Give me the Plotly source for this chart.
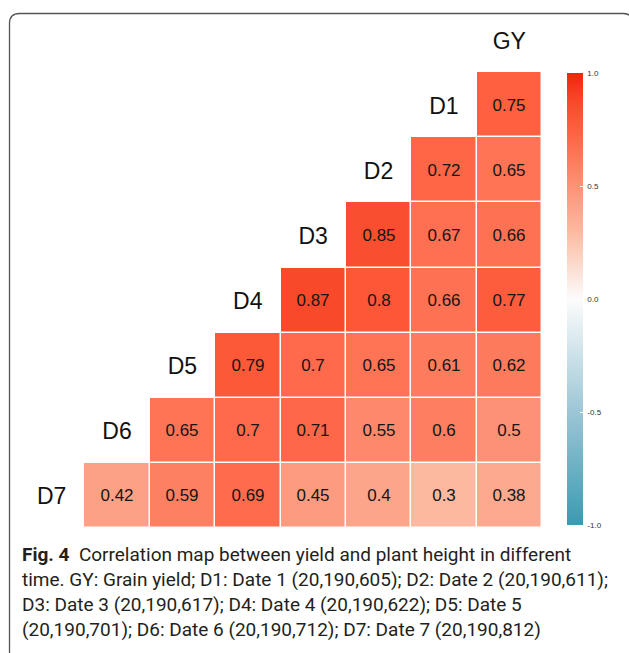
import plotly.graph_objects as go

# ---- data ----
variables = ["GY", "D1", "D2", "D3", "D4", "D5", "D6", "D7"]
# correlation of each variable with the preceding ones (GY, D1, D2, ...)
corr_D1 = [0.75]
corr_D2 = [0.65, 0.72]
corr_D3 = [0.66, 0.67, 0.85]
corr_D4 = [0.77, 0.66, 0.80, 0.87]
corr_D5 = [0.62, 0.61, 0.65, 0.70, 0.79]
corr_D6 = [0.50, 0.60, 0.55, 0.71, 0.70, 0.65]
corr_D7 = [0.38, 0.30, 0.40, 0.45, 0.69, 0.59, 0.42]
lower_rows = [[], corr_D1, corr_D2, corr_D3, corr_D4, corr_D5, corr_D6, corr_D7]
colorbar_ticks = [-1.0, -0.5, 0.0, 0.5, 1.0]
colorbar_ticktext = [" -1.0", " -0.5", " 0.0", " 0.5", " 1.0"]
caption_lines = [
    "<b>Fig. 4</b>  Correlation map between yield and plant height in different",
    "time. GY: Grain yield; D1: Date 1 (20,190,605); D2: Date 2 (20,190,611);",
    "D3: Date 3 (20,190,617); D4: Date 4 (20,190,622); D5: Date 5",
    "(20,190,701); D6: Date 6 (20,190,712); D7: Date 7 (20,190,812)",
]

n = len(variables)
z = [[None] * n for _ in range(n)]
txt = [[""] * n for _ in range(n)]
for i, row in enumerate(lower_rows):
    for j, v in enumerate(row):
        col = n - 1 - j
        z[i][col] = v
        txt[i][col] = f"{v:g}"

W, H = 629, 653
def px(x):
    return x / W
def py(y):
    return 1 - y / H

colorscale = [
    [0.0, "#3B9AB2"], [0.25, "#9CC6D5"], [0.5, "#FCFCFC"],
    [0.65, "#FCB9A0"], [0.875, "#FE6040"], [0.935, "#F84A2B"], [1.0, "#F0260A"],
]

fig = go.Figure()
fig.add_trace(go.Heatmap(
    z=z, x=list(range(n)), y=list(range(n)),
    text=txt, texttemplate="%{text}",
    textfont=dict(family="Liberation Sans, Arial", size=17, color="#151515"),
    zmin=-1, zmax=1,
    colorscale=colorscale,
    xgap=1.5, ygap=1.5, hoverongaps=False,
    colorbar=dict(
        x=px(567), xanchor="left", xpad=0,
        y=py(299), yanchor="middle", ypad=0,
        len=452 / H, lenmode="fraction", thickness=16,
        outlinewidth=0,
        tickvals=colorbar_ticks, ticktext=colorbar_ticktext,
        ticks="inside", ticklen=3, tickcolor="white",
        tickfont=dict(family="Liberation Sans, Arial", size=8, color="#333333"),
    ),
))
fig.add_trace(go.Scatter(
    x=[n - 1 - k for k in range(n)], y=[k + 0.05 for k in range(n)],
    text=variables, mode="text",
    textfont=dict(family="Liberation Sans, Arial", size=23, color="#111111"),
    hoverinfo="skip", showlegend=False,
))

fig.update_xaxes(range=[-0.5, n - 0.5], domain=[px(19), px(542)], visible=False)
fig.update_yaxes(range=[n - 0.5, -0.5], domain=[py(528), py(7)], visible=False)

# caption
for k, line in enumerate(caption_lines):
    fig.add_annotation(
        text=line, xref="paper", yref="paper", x=px(20), y=py(554 + 25 * k),
        xanchor="left", yanchor="middle", showarrow=False,
        font=dict(family="Roboto", size=19, color="#231f20"),
    )

# rounded frame
x0, y0, x1, y1, r = 9.5, 13.5, 633, 661, 10
path = (f"M {px(x0)},{py(y1 - r)} L {px(x0)},{py(y0 + r)} "
        f"Q {px(x0)},{py(y0)} {px(x0 + r)},{py(y0)} "
        f"L {px(x1 - r)},{py(y0)} Q {px(x1)},{py(y0)} {px(x1)},{py(y0 + r)} "
        f"L {px(x1)},{py(y1 - r)} Q {px(x1)},{py(y1)} {px(x1 - r)},{py(y1)} "
        f"L {px(x0 + r)},{py(y1)} Q {px(x0)},{py(y1)} {px(x0)},{py(y1 - r)} Z")
fig.add_shape(type="path", path=path, xref="paper", yref="paper",
              line=dict(color="#555555", width=1.3))

fig.update_layout(
    width=W, height=H, margin=dict(l=0, r=0, t=0, b=0),
    paper_bgcolor="white", plot_bgcolor="white", showlegend=False,
)
fig.write_html("out.html", config={"displayModeBar": False},
               post_script="document.body.style.margin='0px';document.body.style.overflow='hidden';")
